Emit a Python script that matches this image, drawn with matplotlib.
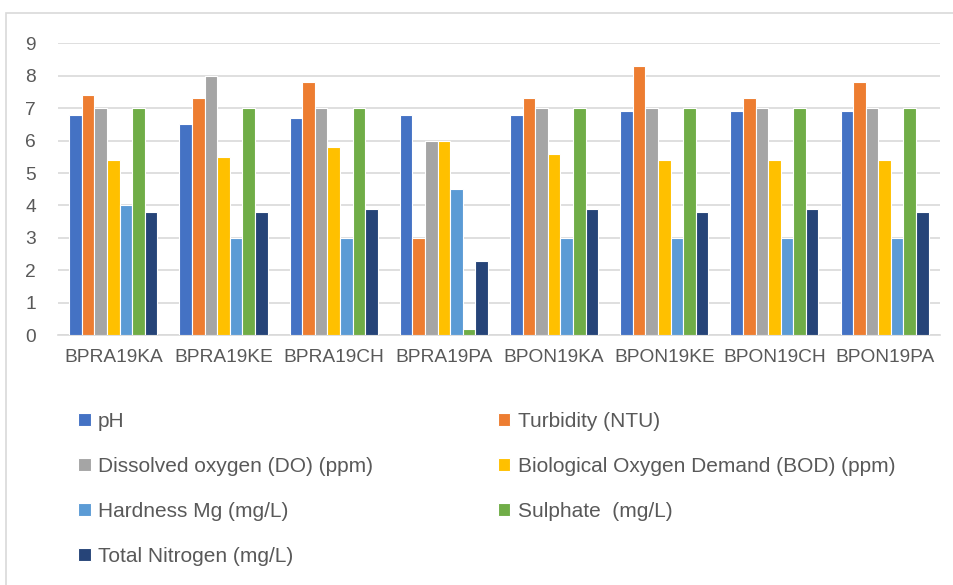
import numpy as np
import matplotlib.pyplot as plt
from matplotlib.patches import Rectangle

sites = ["BPRA19KA", "BPRA19KE", "BPRA19CH", "BPRA19PA",
         "BPON19KA", "BPON19KE", "BPON19CH", "BPON19PA"]

ph = [6.8, 6.5, 6.7, 6.8, 6.8, 6.9, 6.9, 6.9]
turbidity = [7.4, 7.3, 7.8, 3.0, 7.3, 8.3, 7.3, 7.8]
dissolved_oxygen = [7, 8, 7, 6, 7, 7, 7, 7]
bod = [5.4, 5.5, 5.8, 6.0, 5.6, 5.4, 5.4, 5.4]
hardness_mg = [4, 3, 3, 4.5, 3, 3, 3, 3]
sulphate = [7, 7, 7, 0.2, 7, 7, 7, 7]
total_nitrogen = [3.8, 3.8, 3.9, 2.3, 3.9, 3.8, 3.9, 3.8]

labels = ["pH", "Turbidity (NTU)", "Dissolved oxygen (DO) (ppm)",
          "Biological Oxygen Demand (BOD) (ppm)", "Hardness Mg (mg/L)",
          "Sulphate  (mg/L)", "Total Nitrogen (mg/L)"]
series = [ph, turbidity, dissolved_oxygen, bod, hardness_mg, sulphate, total_nitrogen]
colors = ["#4472C4", "#ED7D31", "#A5A5A5", "#FFC000", "#5B9BD5", "#70AD47", "#264478"]

plt.rcParams['font.family'] = ['Liberation Sans', 'DejaVu Sans']

fig = plt.figure(figsize=(9.54, 5.85), dpi=100)
ax = fig.add_axes([0.061, 0.427, 0.924, 0.499])

x = np.arange(len(sites))
n = len(series)
w = 0.8 / n
handles = []
for i, (vals, lab, col) in enumerate(zip(series, labels, colors)):
    b = ax.bar(x - 0.4 + w * (i + 0.5), vals, width=w, color=col,
               edgecolor="white", linewidth=0.8, label=lab, zorder=3)
    handles.append(b)

ax.set_xlim(-0.5, len(sites) - 0.5)
ax.set_ylim(0, 9)
ax.set_yticks(range(0, 10))
ax.set_xticks(x)
ax.set_xticklabels(sites)
ax.tick_params(axis='both', length=0, labelsize=13.8, colors="#595959")
ax.tick_params(axis='x', pad=10)
ax.tick_params(axis='y', pad=16)
ax.grid(axis='y', color="#D9D9D9", linewidth=1.2, zorder=0)
for s in ["top", "right", "left"]:
    ax.spines[s].set_visible(False)
ax.spines["bottom"].set_color("#D9D9D9")
ax.spines["bottom"].set_linewidth(1.2)

# two one-column legends, read row by row like the original
leg_kw = dict(loc="upper left", frameon=False, fontsize=15, handlelength=0.6,
              handleheight=0.6, handletextpad=0.35, labelspacing=1.25,
              borderpad=0, borderaxespad=0)
left_idx = [0, 2, 4, 6]
right_idx = [1, 3, 5]
leg1 = fig.legend([handles[i] for i in left_idx], [labels[i] for i in left_idx],
                  bbox_to_anchor=(0.082, 0.296), **leg_kw)
leg2 = fig.legend([handles[i] for i in right_idx], [labels[i] for i in right_idx],
                  bbox_to_anchor=(0.522, 0.296), **leg_kw)
for leg in (leg1, leg2):
    for t in leg.get_texts():
        t.set_color("#595959")

fig.patches.append(Rectangle((0.006, -0.01), 1.2, 0.987, transform=fig.transFigure,
                             fill=False, edgecolor="#D9D9D9", linewidth=1.2))

fig.savefig("out.png", dpi=100)
